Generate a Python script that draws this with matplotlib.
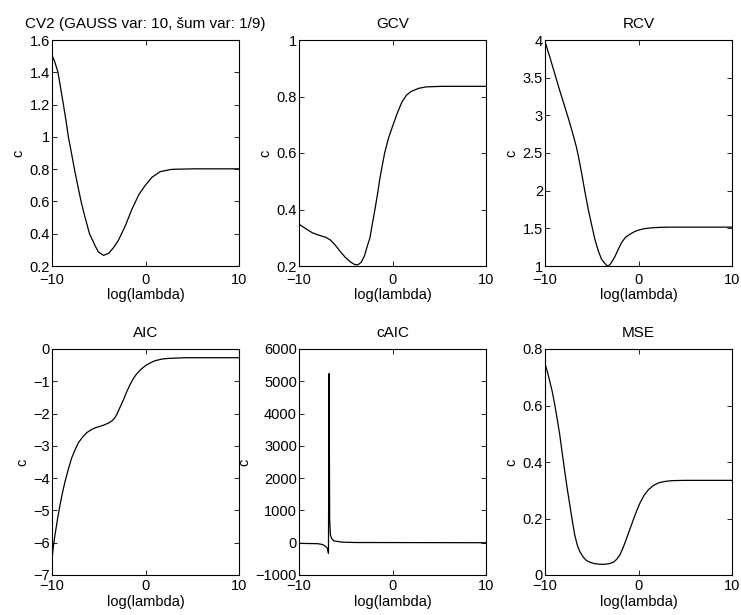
#!/usr/bin/env python

import numpy as np
import matplotlib
matplotlib.use('Agg')
import matplotlib.pyplot as plt

plt.rcParams['font.family'] = ['Liberation Sans', 'DejaVu Sans']
plt.rcParams['font.size'] = 10.5
plt.rcParams['axes.linewidth'] = 0.8

# sampled criterion curves, c vs log(lambda)
cv2_x = [-10, -9.68, -9.36, -9.07, -8.78, -8.50, -8.25, -7.92, -7.60, -7.25, -6.89, -6.46, -5.99,
         -5.38, -5.03, -4.49, -3.95, -3.42, -2.88, -2.16, -1.45, -0.73, -0.02, 0.70, 1.59, 2.84, 5.35, 10]
cv2_y = [1.507, 1.46, 1.40, 1.30, 1.20, 1.10, 1.00, 0.90, 0.80, 0.70, 0.60, 0.50, 0.40,
         0.324, 0.287, 0.266, 0.278, 0.314, 0.361, 0.449, 0.552, 0.640, 0.700, 0.750, 0.785, 0.799, 0.802, 0.802]

gcv_x = [-10, -9.32, -8.60, -7.89, -7.17, -6.64, -6.10, -5.56, -5.03, -4.49, -4.03, -3.70, -3.35,
         -3.0, -2.7, -2.41, -2.15, -1.88, -1.6, -1.35, -1.1, -0.84, -0.45, -0.02, 0.5, 1.0, 1.5,
         2.0, 2.8, 3.6, 5.3, 10]
gcv_y = [0.348, 0.333, 0.318, 0.309, 0.302, 0.292, 0.273, 0.250, 0.230, 0.214, 0.205, 0.204, 0.213,
         0.236, 0.270, 0.300, 0.350, 0.400, 0.455, 0.510, 0.555, 0.600, 0.650, 0.692, 0.740, 0.780, 0.805,
         0.818, 0.829, 0.834, 0.836, 0.836]

rcv_x = [-10, -9.5, -9.0, -8.5, -8.0, -7.5, -7.17, -6.9, -6.64, -6.4, -6.1, -5.75, -5.38, -5.0,
         -4.67, -4.3, -3.95, -3.6, -3.4, -3.24, -3.05, -2.85, -2.52, -2.15, -1.81, -1.4, -0.91, -0.45, -0.02,
         0.6, 1.41, 2.5, 3.56, 10]
rcv_y = [3.98, 3.78, 3.57, 3.36, 3.16, 2.96, 2.82, 2.70, 2.578, 2.44, 2.244, 2.0, 1.756, 1.54,
         1.356, 1.2, 1.089, 1.035, 1.008, 1.0, 1.02, 1.055, 1.125, 1.225, 1.311, 1.38, 1.422, 1.455, 1.476,
         1.495, 1.507, 1.514, 1.516, 1.516]

aic_x = [-10, -9.85, -9.68, -9.4, -9.14, -8.87, -8.60, -8.25, -7.89, -7.5, -7.17, -6.7, -6.28,
         -5.8, -5.38, -4.9, -4.49, -4.0, -3.60, -3.3, -3.06, -2.7, -2.34, -2.0, -1.63, -1.27,
         -0.91, -0.45, -0.02, 0.5, 1.06, 1.8, 2.49, 4.28, 10]
aic_y = [-6.5, -6.1, -5.76, -5.25, -4.82, -4.44, -4.10, -3.72, -3.37, -3.10, -2.90, -2.72, -2.59,
         -2.50, -2.44, -2.40, -2.36, -2.30, -2.23, -2.14, -2.02, -1.79, -1.56, -1.32, -1.09, -0.90,
         -0.76, -0.62, -0.52, -0.43, -0.36, -0.31, -0.29, -0.27, -0.27]

caic_x = [-10, -8, -7.5, -7.17, -6.95, -6.85, -6.78, -6.72, -6.64, -6.53, -6.28, -5.38, -3.95, 10]
caic_y = [-20, -30, -55, -110, -180, -326, 5240, 700, 245, 141, 58, 17, 6, 0]

mse_x = [-10, -9.75, -9.50, -9.23, -8.96, -8.70, -8.43, -8.16, -7.89, -7.62, -7.35, -7.08, -6.82,
         -6.55, -6.28, -5.9, -5.56, -5.1, -4.67, -4.1, -3.60, -3.15, -2.70, -2.35, -1.99, -1.63,
         -1.27, -0.91, -0.55, -0.2, 0.16, 0.6, 1.06, 1.6, 2.13, 2.8, 3.56, 5, 10]
mse_y = [0.747, 0.72, 0.687, 0.650, 0.604, 0.553, 0.498, 0.432, 0.367, 0.305, 0.249, 0.192, 0.142,
         0.106, 0.083, 0.063, 0.051, 0.044, 0.040, 0.038, 0.038, 0.040, 0.045, 0.055, 0.071, 0.098,
         0.130, 0.163, 0.196, 0.227, 0.255, 0.282, 0.302, 0.317, 0.326, 0.331, 0.334, 0.335, 0.335]

titles = ['CV2 (GAUSS var: 10, šum var: 1/9)', 'GCV', 'RCV', 'AIC', 'cAIC', 'MSE']
series = [(cv2_x, cv2_y), (gcv_x, gcv_y), (rcv_x, rcv_y),
          (aic_x, aic_y), (caic_x, caic_y), (mse_x, mse_y)]
ylims = [(0.2, 1.6), (0.2, 1), (1, 4), (-7, 0), (-1000, 6000), (0, 0.8)]
yticks = [np.arange(0.2, 1.61, 0.2), [0.2, 0.4, 0.6, 0.8, 1], np.arange(1, 4.01, 0.5),
          np.arange(-7, 0.1, 1), np.arange(-1000, 6001, 1000), [0, 0.2, 0.4, 0.6, 0.8]]
yfmt = [['0.2', '0.4', '0.6', '0.8', '1', '1.2', '1.4', '1.6'],
        ['0.2', '0.4', '0.6', '0.8', '1'],
        ['1', '1.5', '2', '2.5', '3', '3.5', '4'],
        None, None,
        ['0', '0.2', '0.4', '0.6', '0.8']]

W, H = 741, 615
lefts = [52, 299, 545]
tops = [40, 349]
aw, ah = 187, 226
xpad = [5, 3]

fig = plt.figure(figsize=(W / 100, H / 100), dpi=100)

for i in range(6):
    r, c = divmod(i, 3)
    ax = fig.add_axes([lefts[c] / W, 1 - (tops[r] + ah) / H, aw / W, ah / H])
    x, y = series[i]
    ax.plot(x, y, 'k-', lw=0.9)
    ax.set_xlim(-10, 10)
    ax.set_ylim(*ylims[i])
    ax.set_xticks([-10, 0, 10])
    ax.set_yticks(yticks[i])
    if yfmt[i] is not None:
        ax.set_yticklabels(yfmt[i])
    ax.tick_params(direction='in', length=3.5, width=0.6, top=True, right=True)
    ax.tick_params(axis='y', pad=1.5)
    ax.tick_params(axis='x', pad=xpad[r])
    ax.set_title(titles[i], pad=8.5, fontsize=11)
    ax.set_xlabel('log(lambda)', labelpad=1)
    ax.set_ylabel('c', labelpad=3)

plt.savefig('out.png', dpi=100)
